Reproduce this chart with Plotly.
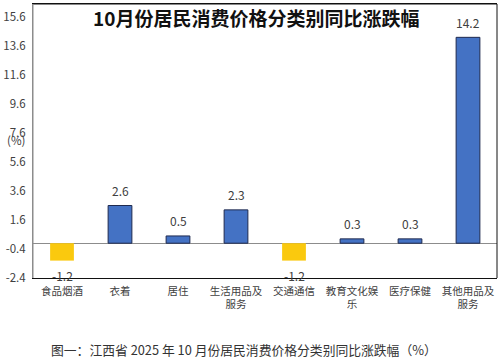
import plotly.graph_objects as go

categories = ["食品烟酒", "衣着", "居住", "生活用品及<br>服务", "交通通信", "教育文化娱<br>乐", "医疗保健", "其他用品及<br>服务"]
values = [-1.2, 2.6, 0.5, 2.3, -1.2, 0.3, 0.3, 14.2]
value_labels = ["-1.2", "2.6", "0.5", "2.3", "-1.2", "0.3", "0.3", "14.2"]
tick_vals = [-2.4, -0.4, 1.6, 3.6, 5.6, 7.6, 9.6, 11.6, 13.6, 15.6]
tick_text = ["-2.4", "-0.4", "1.6", "3.6", "5.6", "7.6", "9.6", "11.6", "13.6", "15.6"]
title_text = "10月份居民消费价格分类别同比涨跌幅"
caption_text = "图一：江西省 2025 年 10 月份居民消费价格分类别同比涨跌幅（%）"

BLUE = "#4472C4"
YELLOW = "#FAC90E"
colors = [YELLOW if v < 0 else BLUE for v in values]
line_colors = ["rgba(0,0,0,0)" if v < 0 else "#1F2A4F" for v in values]

FONT = "Noto Sans CJK SC"
W, H = 500, 360
pl, pr, pt, pb = 30, 3, 4, 82
pw = W - pl - pr
ph = H - pt - pb


def px(x):
    return (x - pl) / pw


def py(y):
    return (H - pb - y) / ph


fig = go.Figure()
fig.add_trace(go.Bar(
    x=categories, y=values,
    marker=dict(color=colors, line=dict(color=line_colors, width=1)),
    width=0.41,
    hoverinfo="skip",
))

annotations = []
for c, v, t in zip(categories, values, value_labels):
    annotations.append(dict(
        x=c, y=v, xref="x", yref="y", text=t, showarrow=False,
        yshift=15 if v >= 0 else -15, yanchor="middle",
        font=dict(family=FONT, size=12, color="#404040"),
    ))
annotations += [
    dict(text="<b>" + title_text + "</b>", x=px(254), y=py(17), xref="paper", yref="paper",
         showarrow=False, font=dict(family=FONT, size=19, color="#111"), yanchor="middle"),
    dict(text="(%)", x=px(2), y=py(140), xref="paper", yref="paper", showarrow=False,
         font=dict(size=11.5, color="#404040"), xanchor="left", yanchor="middle"),
    dict(text=caption_text, x=px(242), y=py(349), xref="paper", yref="paper", showarrow=False,
         font=dict(size=12.8, color="#333"), yanchor="middle"),
]

fig.update_layout(
    width=W, height=H,
    margin=dict(l=pl, r=pr, t=pt, b=pb),
    paper_bgcolor="white", plot_bgcolor="white",
    showlegend=False,
    font=dict(family=FONT, size=12, color="#404040"),
    xaxis=dict(
        showgrid=False, showline=True, linecolor="#111", linewidth=1,
        mirror=True, ticks="", tickfont=dict(size=10.5, color="#404040"),
        tickangle=0, ticklabelstandoff=3,
    ),
    yaxis=dict(
        range=[-2.4, 16.5], tickvals=tick_vals, ticktext=tick_text,
        showgrid=False, zeroline=True, zerolinecolor="#8c8c8c", zerolinewidth=1,
        showline=True, linecolor="#8c8c8c", linewidth=1, mirror=False,
        ticks="", tickfont=dict(size=11.5, color="#404040"), ticklabelstandoff=4,
    ),
    annotations=annotations,
)

fig.add_shape(type="line", xref="paper", yref="paper", x0=0, x1=1, y0=1, y1=1, line=dict(color="#111", width=1))
fig.add_shape(type="line", xref="paper", yref="paper", x0=1, x1=1, y0=0, y1=1, line=dict(color="#111", width=1))
fig.add_shape(type="line", xref="paper", yref="paper", x0=0, x1=0, y0=0, y1=1, line=dict(color="#8c8c8c", width=1))

fig.write_html("out.html", config={"displayModeBar": False},
               post_script="document.body.style.margin='0';document.body.style.overflow='hidden';")
